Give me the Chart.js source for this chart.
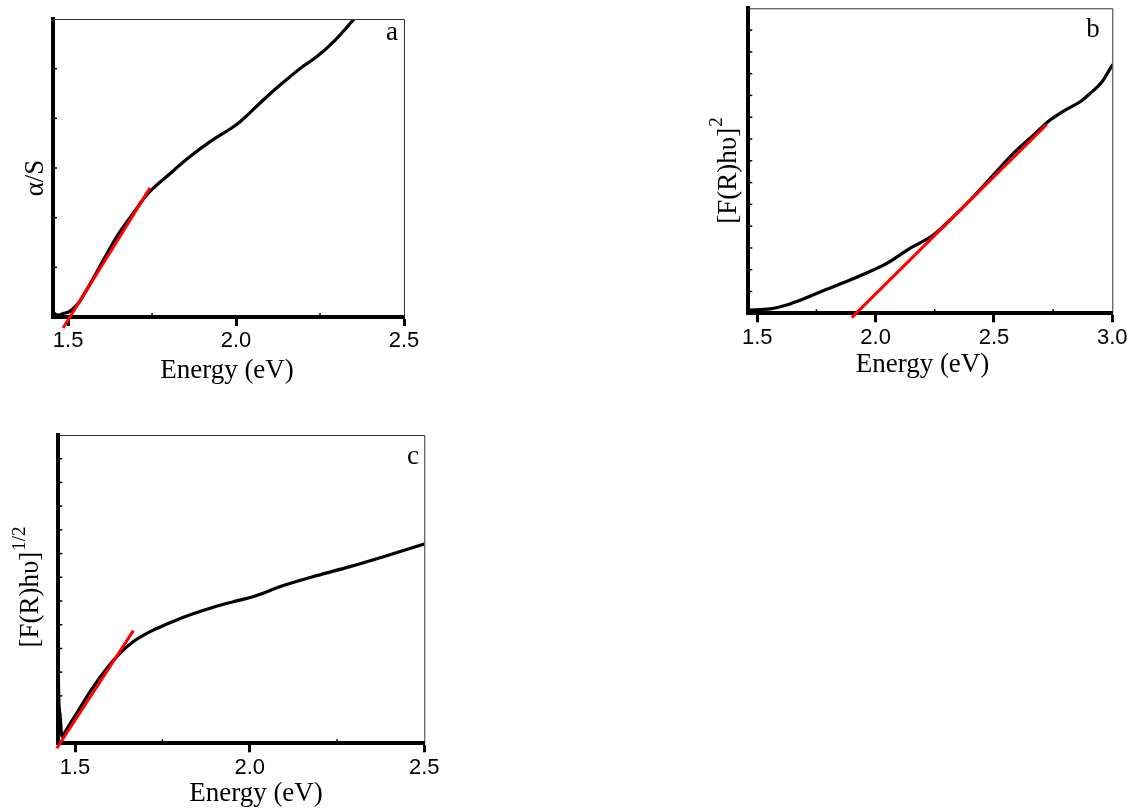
<!DOCTYPE html>
<html>
<head>
<meta charset="utf-8">
<script src="https://cdn.jsdelivr.net/npm/chart.js@4.4.0/dist/chart.umd.min.js"></script>
<style>
html, body { margin: 0; padding: 0; background: #fff; }
body { width: 1130px; height: 809px; position: relative; overflow: hidden; }
canvas { position: absolute; }
</style>
</head>
<body>
<canvas id="chartA" width="430" height="400" style="left:0;top:0"></canvas>
<canvas id="chartB" width="430" height="400" style="left:700px;top:0"></canvas>
<canvas id="chartC" width="450" height="389" style="left:0;top:420px"></canvas>
<script>
// ---- panel a : alpha/S vs energy ----
const energyA = [1.456, 1.461, 1.471, 1.486, 1.506, 1.531, 1.551, 1.565, 1.585, 1.645, 1.694, 1.734, 1.804, 1.863, 1.923, 1.992, 2.012, 2.081, 2.131, 2.190, 2.240, 2.290, 2.349];
const alphaA = [0.10, 0.06, 0.04, 0.07, 0.12, 0.28, 0.50, 0.66, 0.90, 1.62, 2.09, 2.46, 2.89, 3.23, 3.53, 3.83, 3.93, 4.37, 4.67, 5.00, 5.24, 5.54, 5.98];
const fitEnergyA = [1.485, 1.744];
const fitA = [-0.22, 2.60];
const xTicksA = [1.5, 1.75, 2.0, 2.25, 2.5];
const yTicksA = [0, 1, 2, 3, 4, 5, 6];

// ---- panel b : [F(R)hv]^2 ----
const energyB = [1.462, 1.554, 1.624, 1.709, 1.793, 1.892, 1.990, 2.047, 2.145, 2.244, 2.328, 2.413, 2.497, 2.582, 2.667, 2.737, 2.801, 2.864, 2.906, 2.956, 2.983, 3.0];
const valB = [0.15, 0.20, 0.38, 0.72, 1.10, 1.53, 1.99, 2.29, 2.98, 3.59, 4.43, 5.35, 6.34, 7.34, 8.18, 8.87, 9.33, 9.71, 10.09, 10.62, 11.08, 11.39];
const fitEnergyB = [1.899, 2.723];
const fitB = [-0.20, 8.67];
const xTicksB = [1.5, 1.75, 2.0, 2.25, 2.5, 2.75, 3.0];
const yTicksB = [0, 1, 2, 3, 4, 5, 6, 7, 8, 9, 10, 11, 12, 13, 14];

// ---- panel c : [F(R)hv]^1/2 ----
const energyC = [1.4525, 1.4535, 1.457, 1.4628, 1.474, 1.505, 1.543, 1.591, 1.629, 1.667, 1.715, 1.763, 1.820, 1.896, 1.953, 2.011, 2.096, 2.192, 2.287, 2.383, 2.5];
const valC = [2.60, 1.83, 1.19, 0.29, 0.55, 1.27, 2.18, 3.16, 3.80, 4.29, 4.71, 5.03, 5.37, 5.74, 5.97, 6.19, 6.65, 7.07, 7.45, 7.87, 8.40];
const fitEnergyC = [1.4476, 1.667];
const fitC = [-0.21, 4.75];
const xTicksC = [1.5, 1.75, 2.0, 2.25, 2.5];
const yTicksC = [0, 1, 2, 3, 4, 5, 6, 7, 8, 9, 10, 11, 12, 13];

const SERIF = '"Liberation Serif", "Times New Roman", serif';
const SANS = '"Liberation Sans", Arial, sans-serif';

function isMajor(v) {
    return Math.abs(v * 2 - Math.round(v * 2)) < 1e-6;
}

function toPoints(xs, ys) {
    return xs.map((x, i) => ({ x: x, y: ys[i] }));
}

// frame, inner ticks, panel letter and axis titles
const panelDecor = {
    id: 'panelDecor',
    afterDraw(chart) {
        const o = chart.options.plugins.panelDecor;
        const ctx = chart.ctx;
        const a = chart.chartArea;
        const x = chart.scales.x;
        const y = chart.scales.y;
        ctx.save();

        // thin top / right border
        ctx.strokeStyle = '#333';
        ctx.lineWidth = 1;
        ctx.beginPath();
        ctx.moveTo(a.left, a.top + 0.5);
        ctx.lineTo(a.right + 0.5, a.top + 0.5);
        ctx.lineTo(a.right + 0.5, a.bottom);
        ctx.stroke();

        // small inward ticks on the left axis
        ctx.strokeStyle = '#000';
        ctx.lineWidth = 1.5;
        y.ticks.forEach(t => {
            const py = y.getPixelForValue(t.value);
            if (py <= a.top + 2 || py >= a.bottom - 2) return;
            ctx.beginPath();
            ctx.moveTo(a.left, py);
            ctx.lineTo(a.left + 4, py);
            ctx.stroke();
        });

        // minor x ticks (inward)
        x.ticks.forEach(t => {
            if (isMajor(t.value)) return;
            const px = x.getPixelForValue(t.value);
            ctx.beginPath();
            ctx.moveTo(px, a.bottom);
            ctx.lineTo(px, a.bottom - 4);
            ctx.stroke();
        });

        ctx.fillStyle = '#000';
        ctx.font = '27px ' + SERIF;
        ctx.textAlign = 'center';
        ctx.textBaseline = 'middle';
        ctx.fillText(o.letter, o.letterX, o.letterY);

        ctx.textBaseline = 'alphabetic';
        ctx.fillText('Energy (eV)', o.xTitleX, o.xTitleY);

        // rotated y title with optional superscript
        ctx.font = '27px ' + SERIF;
        const wMain = ctx.measureText(o.yTitle).width;
        ctx.font = '19px ' + SERIF;
        const wSup = o.ySup ? ctx.measureText(o.ySup).width : 0;
        const total = wMain + wSup;
        ctx.translate(o.yTitleX, o.yTitleY);
        ctx.rotate(-Math.PI / 2);
        ctx.textAlign = 'left';
        ctx.textBaseline = 'middle';
        ctx.font = '27px ' + SERIF;
        ctx.fillText(o.yTitle, -total / 2, 0);
        if (o.ySup) {
            ctx.font = '19px ' + SERIF;
            ctx.fillText(o.ySup, -total / 2 + wMain + 1, -11);
        }
        ctx.restore();
    }
};

function makePanel(id, cfg) {
    const canvas = document.getElementById(id);
    return new Chart(canvas.getContext('2d'), {
        type: 'line',
        data: {
            datasets: [{
                data: toPoints(cfg.fitX, cfg.fitY),
                borderColor: '#ff0000',
                borderWidth: 3,
                pointRadius: 0,
                clip: false,
                order: 0
            }, {
                data: toPoints(cfg.curveX, cfg.curveY),
                borderColor: '#000000',
                borderWidth: 3.2,
                pointRadius: 0,
                tension: 0.4,
                cubicInterpolationMode: 'monotone',
                borderCapStyle: 'round',
                borderJoinStyle: 'round',
                order: 1
            }]
        },
        options: {
            responsive: false,
            devicePixelRatio: 1,
            animation: false,
            events: [],
            layout: { padding: { top: cfg.padTop, right: cfg.padRight, left: 0, bottom: 0 } },
            plugins: {
                legend: { display: false },
                tooltip: { enabled: false },
                panelDecor: cfg.decor
            },
            scales: {
                x: {
                    type: 'linear',
                    min: cfg.xMin,
                    max: cfg.xMax,
                    afterBuildTicks: s => { s.ticks = cfg.xTicks.map(v => ({ value: v })); },
                    afterFit: s => { s.height = cfg.xHeight; },
                    border: { display: true, color: '#000', width: 4 },
                    grid: {
                        display: true,
                        drawOnChartArea: false,
                        drawTicks: true,
                        tickLength: 9,
                        tickWidth: 3,
                        tickColor: c => (c.tick && !isMajor(c.tick.value)) ? 'rgba(0,0,0,0)' : '#000'
                    },
                    ticks: {
                        autoSkip: false,
                        maxRotation: 0,
                        padding: 2,
                        color: '#000',
                        font: { family: SANS, size: 22 },
                        callback: v => isMajor(v) ? v.toFixed(1) : ''
                    }
                },
                y: {
                    type: 'linear',
                    min: cfg.yMin,
                    max: cfg.yMax,
                    afterBuildTicks: s => { s.ticks = cfg.yTicks.map(v => ({ value: v })); },
                    afterFit: s => { s.width = cfg.yWidth; },
                    border: { display: true, color: '#000', width: 4 },
                    grid: { display: true, drawOnChartArea: false, drawTicks: false },
                    ticks: { display: false }
                }
            }
        },
        plugins: [panelDecor]
    });
}

makePanel('chartA', {
    curveX: energyA, curveY: alphaA, fitX: fitEnergyA, fitY: fitA,
    xMin: 1.455, xMax: 2.5, xTicks: xTicksA,
    yMin: 0, yMax: 6, yTicks: yTicksA,
    padTop: 19, padRight: 26, xHeight: 83, yWidth: 53,
    decor: { letter: 'a', letterX: 392, letterY: 33, xTitleX: 227, xTitleY: 378,
             yTitle: '\u03b1/S', ySup: '', yTitleX: 36, yTitleY: 178 }
});

makePanel('chartB', {
    curveX: energyB, curveY: valB, fitX: fitEnergyB, fitY: fitB,
    xMin: 1.462, xMax: 3.0, xTicks: xTicksB,
    yMin: 0, yMax: 14, yTicks: yTicksB,
    padTop: 8.3, padRight: 17.7, xHeight: 86.7, yWidth: 48.3,
    decor: { letter: 'b', letterX: 393, letterY: 30, xTitleX: 222.5, xTitleY: 372,
             yTitle: '[F(R)h\u03c5]', ySup: '2', yTitleX: 28.5, yTitleY: 171 }
});

makePanel('chartC', {
    curveX: energyC, curveY: valC, fitX: fitEnergyC, fitY: fitC,
    xMin: 1.452, xMax: 2.5, xTicks: xTicksC,
    yMin: 0, yMax: 13, yTicks: yTicksC,
    padTop: 15, padRight: 25.7, xHeight: 65.7, yWidth: 58.3,
    decor: { letter: 'c', letterX: 413, letterY: 37, xTitleX: 256, xTitleY: 381,
             yTitle: '[F(R)h\u03c5]', ySup: '1/2', yTitleX: 31, yTitleY: 167.5 }
});
</script>
</body>
</html>
